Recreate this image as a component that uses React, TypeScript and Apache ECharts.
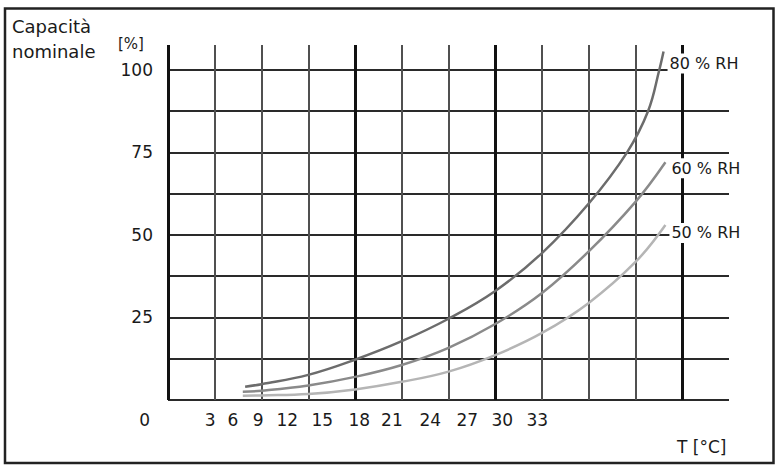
import React, { useEffect, useRef } from "react";
import * as echarts from "echarts";

// Curves: x in grid-column units of the chart's own x scale, y in % of nominal capacity
const rh80X = [1.65, 2, 3, 4, 5, 6, 7, 8, 9, 9.82, 10.27, 10.51, 10.6];
const rh80 = [4.0, 4.8, 7.6, 12.2, 17.8, 24.6, 33.0, 44.5, 59.5, 75.0, 87.5, 100.0, 105.5];
const rh60X = [1.6, 2, 3, 4, 5, 6, 7, 8, 9, 10, 10.64];
const rh60 = [2.5, 2.8, 4.4, 7.0, 10.6, 15.8, 23.0, 32.4, 45.0, 60.0, 72.0];
const rh50X = [1.6, 2, 3, 4, 5, 6, 7, 8, 9, 10, 10.64];
const rh50 = [1.3, 1.4, 1.8, 3.2, 5.5, 8.6, 13.6, 20.3, 29.4, 41.8, 53.0];
const seriesNames = ["80 % RH", "60 % RH", "50 % RH"];

// Axis ticks / labels
const xTickLabels = ["3", "6", "9", "12", "15", "18", "21", "24", "27", "30", "33"];
const xTickPos = [0.9, 1.39, 1.93, 2.55, 3.3, 4.09, 4.79, 5.61, 6.4, 7.15, 7.9];
const yLabels = [0, 25, 50, 75, 100];
const yGrid = [0, 12.5, 25, 37.5, 50, 62.5, 75, 87.5, 100];
const xGrid = [0, 1, 2, 3, 4, 5, 6, 7, 8, 9, 10, 11];
const xGridBold = [0, 4, 7, 11];

const X_MAX = 12;
const Y_MAX = 107.5;
const FONT = "DejaVu Sans";

export default function App() {
  const ref = useRef<HTMLDivElement>(null);
  useEffect(() => {
    document.body.style.margin = "0";
    const chart = echarts.init(ref.current!, null, { renderer: "svg" });

    const gridLines: any[] = [];
    yGrid.forEach((y) => {
      gridLines.push([
        { coord: [0, y], lineStyle: { color: "#2a2a2a", width: 2, type: "solid" } },
        { coord: [X_MAX, y] },
      ]);
    });
    xGrid.forEach((x) => {
      const bold = xGridBold.includes(x);
      gridLines.push([
        {
          coord: [x, 0],
          lineStyle: { color: bold ? "#111" : "#505050", width: bold ? 3 : 2, type: "solid" },
        },
        { coord: [x, Y_MAX] },
      ]);
    });

    const curveColors = ["#6c6c6c", "#8a8a8a", "#b5b5b5"];
    const curveXs = [rh80X, rh60X, rh50X];
    const curveData = [rh80, rh60, rh50];
    const labelOffsets = [[0, 12], [0, 6], [0, 8]];

    chart.setOption({
      animation: false,
      grid: { left: 168, right: 53, top: 45, bottom: 67 },
      xAxis: {
        type: "value",
        min: 0,
        max: X_MAX,
        axisLine: { show: false },
        axisTick: { show: false },
        splitLine: { show: false },
        axisLabel: {
          customValues: xTickPos,
          margin: 11,
          fontFamily: FONT,
          fontSize: 17,
          color: "#1a1a1a",
          formatter: (v: number) => {
            const i = xTickPos.findIndex((p) => Math.abs(p - v) < 1e-6);
            return i >= 0 ? xTickLabels[i] : "";
          },
        },
      },
      yAxis: {
        type: "value",
        min: 0,
        max: Y_MAX,
        axisLine: { show: false },
        axisTick: { show: false },
        splitLine: { show: false },
        axisLabel: {
          customValues: yLabels,
          margin: 15,
          fontFamily: FONT,
          fontSize: 17,
          color: "#1a1a1a",
          formatter: (v: number) => (v === 0 ? "{z|0}" : String(v)),
          rich: {
            z: { fontFamily: FONT, fontSize: 17, color: "#1a1a1a", padding: [40, 3, 0, 0] },
          },
        },
      },
      graphic: [
        {
          type: "rect",
          shape: { x: 5, y: 8.5, width: 768.5, height: 454.5 },
          style: { fill: "none", stroke: "#222", lineWidth: 2.5 },
          z: 100,
        },
        {
          type: "text",
          x: 12,
          y: 14,
          style: {
            text: "Capacità\nnominale",
            font: `18px "${FONT}"`,
            lineHeight: 25,
            fill: "#1a1a1a",
          },
        },
        {
          type: "text",
          x: 118,
          y: 44,
          style: { text: "[%]", font: `15px "${FONT}"`, fill: "#1a1a1a", verticalAlign: "middle" },
        },
        {
          type: "text",
          x: 677,
          y: 447,
          style: { text: "T [°C]", font: `17px "${FONT}"`, fill: "#1a1a1a", verticalAlign: "middle" },
        },
      ],
      series: [
        {
          type: "line",
          data: [],
          z: 1,
          silent: true,
          markLine: {
            z: 1,
            silent: true,
            symbol: ["none", "none"],
            label: { show: false },
            emphasis: { disabled: true },
            data: gridLines,
          },
        },
        ...curveData.map((vals, k) => ({
          type: "line",
          name: seriesNames[k],
          z: 3,
          smooth: 0.4,
          showSymbol: false,
          silent: true,
          data: vals.map((v, i) => [curveXs[k][i], v]),
          lineStyle: { color: curveColors[k], width: 2.5 },
          itemStyle: { color: curveColors[k] },
          endLabel: {
            show: true,
            formatter: seriesNames[k],
            distance: 4,
            offset: labelOffsets[k],
            backgroundColor: "#fff",
            padding: [2, 2],
            color: "#1a1a1a",
            fontFamily: FONT,
            fontSize: 16,
          },
        })),
      ],
    });
    return () => chart.dispose();
  }, []);
  return <div ref={ref} style={{ width: 782, height: 467 }} />;
}
